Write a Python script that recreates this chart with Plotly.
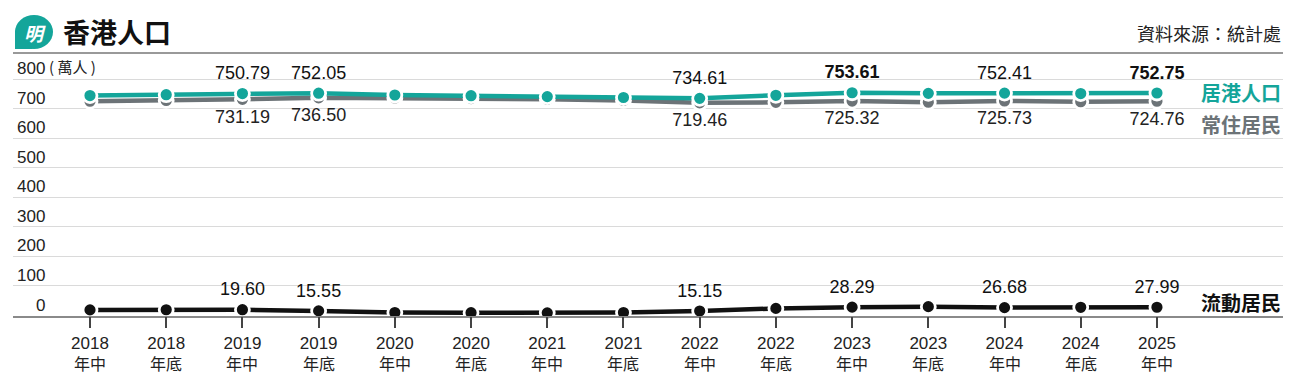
import plotly.graph_objects as go

# ---------------- data ----------------
years = ["2018", "2018", "2019", "2019", "2020", "2020", "2021", "2021",
         "2022", "2022", "2023", "2023", "2024", "2024", "2025"]
halves = ["年中", "年底", "年中", "年底", "年中", "年底", "年中", "年底",
          "年中", "年底", "年中", "年底", "年中", "年底", "年中"]
resident_pop = [744.0, 747.0, 750.79, 752.05, 746.0, 743.5, 740.5, 737.5,
                734.61, 745.0, 753.61, 751.5, 752.41, 750.8, 752.75]   # 居港人口
mobile_res = [19.0, 19.5, 19.60, 15.55, 10.0, 9.5, 9.0, 10.0,
              15.15, 24.0, 28.29, 30.0, 26.68, 27.7, 27.99]            # 流動居民
usual_res = [round(a - b, 2) for a, b in zip(resident_pop, mobile_res)]  # 常住居民
labelled = [2, 3, 8, 10, 12, 14]
bold_idx = [10, 14]
y_ticks = [0, 100, 200, 300, 400, 500, 600, 700, 800]

TEAL = "#14a59a"
GREY = "#6c7377"
BLACK = "#111111"
FONT = "Liberation Sans, Arial, Noto Sans CJK TC, sans-serif"
CJK = "Noto Sans CJK TC, Liberation Sans, sans-serif"

W, H = 1300, 385
def fx(px):
    return px / W
def fy(py):
    return (H - py) / H

x = list(range(len(years)))

def labels(vals, bold=()):
    out = []
    for i, v in enumerate(vals):
        if i in labelled:
            s = f"{v:.2f}"
            out.append(f"<b>{s}</b>" if i in bold else s)
        else:
            out.append("")
    return out

MK = dict(size=14, line=dict(color="white", width=2.8))

fig = go.Figure()

fig.add_trace(go.Scatter(
    x=x, y=usual_res, mode="lines+markers+text",
    line=dict(color=GREY, width=4.5),
    marker=dict(color=GREY, **MK),
    text=labels(usual_res), textposition="bottom center",
    textfont=dict(family=FONT, size=18, color="#222"),
    cliponaxis=False, hoverinfo="skip"))

fig.add_trace(go.Scatter(
    x=x, y=resident_pop, mode="lines+markers+text",
    line=dict(color=TEAL, width=4.5),
    marker=dict(color=TEAL, **MK),
    text=labels(resident_pop, bold_idx), textposition="top center",
    textfont=dict(family=FONT, size=18, color="#111"),
    cliponaxis=False, hoverinfo="skip"))

fig.add_trace(go.Scatter(
    x=x, y=mobile_res, mode="lines+markers+text",
    line=dict(color=BLACK, width=4.5),
    marker=dict(color=BLACK, **MK),
    text=labels(mobile_res), textposition="top center",
    textfont=dict(family=FONT, size=18, color="#111"),
    cliponaxis=False, hoverinfo="skip"))

# geometry
x_left, x_right = 13, 1283
cat0, step = 90, 76.21
y0px, ppu = 315.5, 0.2956
y_top = 55

fig.update_layout(
    width=W, height=H, autosize=False,
    margin=dict(l=0, r=0, t=0, b=0),
    paper_bgcolor="white", plot_bgcolor="white",
    showlegend=False,
    xaxis=dict(
        domain=[fx(x_left), fx(x_right)],
        range=[(x_left - cat0) / step, (x_right - cat0) / step],
        tickvals=x, ticktext=years,
        tickfont=dict(family=FONT, size=17, color="#222"),
        ticks="outside", ticklen=11, tickwidth=1.5, tickcolor="#444",
        showline=True, linecolor="#8a8a8a", linewidth=1.5,
        showgrid=False, zeroline=False, fixedrange=True),
    yaxis=dict(
        domain=[fy(y0px), fy(y_top)],
        range=[0, (y0px - y_top) / ppu],
        tickvals=y_ticks[1:], showticklabels=False,
        showgrid=True, gridcolor="#dadada", gridwidth=1,
        zeroline=False, showline=False, fixedrange=True),
)

ann = []
# second line of the x tick labels
for i, h in zip(x, halves):
    ann.append(dict(x=i, xref="x", y=fy(363), yref="paper", xanchor="center",
                    yanchor="middle", showarrow=False, text=h,
                    font=dict(family=CJK, size=16, color="#222")))
for v in y_ticks:
    ann.append(dict(x=fx(47), xref="paper", y=v, yref="y", xanchor="right",
                    yanchor="bottom", yshift=-1, showarrow=False, text=str(v),
                    font=dict(family=FONT, size=17, color="#222")))
ann.append(dict(x=fx(47), xref="paper", y=800, yref="y", xanchor="left",
                yanchor="bottom", yshift=0, showarrow=False, text="( 萬人 )",
                font=dict(family=CJK, size=15, color="#222")))
# series names at right
ann.append(dict(x=fx(1283), y=fy(93), xref="paper", yref="paper", xanchor="right",
                yanchor="middle", showarrow=False, text="<b>居港人口</b>",
                font=dict(family=CJK, size=20, color=TEAL)))
ann.append(dict(x=fx(1283), y=fy(124), xref="paper", yref="paper", xanchor="right",
                yanchor="middle", showarrow=False, text="<b>常住居民</b>",
                font=dict(family=CJK, size=20, color=GREY)))
ann.append(dict(x=fx(1283), y=fy(302), xref="paper", yref="paper", xanchor="right",
                yanchor="middle", showarrow=False, text="<b>流動居民</b>",
                font=dict(family=CJK, size=20, color="#111")))
# header
ann.append(dict(x=fx(61), y=fy(31), xref="paper", yref="paper", xanchor="left",
                yanchor="middle", showarrow=False, text="<b>香港人口</b>",
                font=dict(family=CJK, size=27, color="#111")))
ann.append(dict(x=fx(1283), y=fy(33), xref="paper", yref="paper", xanchor="right",
                yanchor="middle", showarrow=False, text="資料來源：統計處",
                font=dict(family=CJK, size=18, color="#222")))
ann.append(dict(x=fx(34.5), y=fy(32), xref="paper", yref="paper", xanchor="center",
                yanchor="middle", showarrow=False, text="<b><i>明</i></b>",
                font=dict(family=CJK, size=19, color="white")))
fig.update_layout(annotations=ann)

shapes = [
    dict(type="line", xref="paper", yref="paper", x0=fx(13), x1=fx(1283),
         y0=fy(53), y1=fy(53), line=dict(color="#999", width=2)),
    dict(type="circle", xref="paper", yref="paper", x0=fx(15), x1=fx(53),
         y0=fy(49), y1=fy(15), fillcolor=TEAL, line=dict(width=0)),
    dict(type="path", xref="paper", yref="paper",
         path=f"M {fx(15)},{fy(30)} L {fx(15)},{fy(49)} L {fx(33)},{fy(49)} Z",
         fillcolor=TEAL, line=dict(width=0)),
]
fig.update_layout(shapes=shapes)

fig.write_html("out.html", config={"displayModeBar": False},
               post_script="document.body.style.margin='0';document.body.style.overflow='hidden';")
